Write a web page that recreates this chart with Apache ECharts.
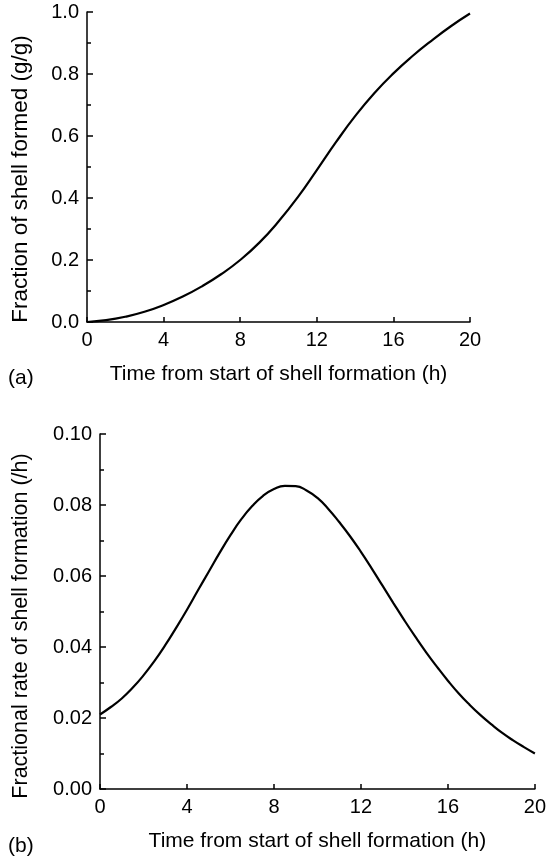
<!DOCTYPE html>
<html>
<head>
<meta charset="utf-8">
<style>
html,body{margin:0;padding:0;background:#fff;}
#c{width:549px;height:868px;}
</style>
<script src="https://cdn.jsdelivr.net/npm/echarts@6/dist/echarts.min.js"></script>
</head>
<body>
<div id="c"></div>
<script>
// ---- data ----
var timeA = [0,1,2,3,4,5,6,7,8,9,10,11,12,13,14,15,16,17,18,19,20];
var fractionFormed = [0,0.006,0.017,0.033,0.055,0.082,0.115,0.154,0.200,0.256,0.324,0.402,0.490,0.580,0.664,0.738,0.802,0.858,0.908,0.954,0.995];
var timeB = [0,0.5,1,1.5,2,2.5,3,3.5,4,4.5,5,5.5,6,6.5,7,7.5,8,8.5,9,9.5,10,10.5,11,11.5,12,12.5,13,13.5,14,14.5,15,15.5,16,16.5,17,17.5,18,18.5,19,19.5,20];
var fractionalRate = [0.0210,0.0231,0.0255,0.0285,0.0320,0.0360,0.0405,0.0454,0.0505,0.0559,0.0612,0.0665,0.0715,0.0760,0.0797,0.0826,0.0845,0.0854,0.0853,0.0841,0.0820,0.0789,0.0752,0.0712,0.0668,0.0621,0.0572,0.0523,0.0475,0.0429,0.0385,0.0344,0.0305,0.0269,0.0237,0.0208,0.0182,0.0158,0.0137,0.0118,0.0100];
var xTickLabels = ['0','4','8','12','16','20'];
var yTickLabelsA = ['0.0','0.2','0.4','0.6','0.8','1.0'];
var yTickLabelsB = ['0.00','0.02','0.04','0.06','0.08','0.10'];
var panelLabels = ['(a)','(b)'];
var xTitle = 'Time from start of shell formation (h)';
var yTitleA = 'Fraction of shell formed (g/g)';
var yTitleB = 'Fractional rate of shell formation (/h)';

var FONT = '"Liberation Sans", Arial, Helvetica, sans-serif';
var chart = echarts.init(document.getElementById('c'), null, {renderer:'canvas'});

function pairs(xs, ys){ return xs.map(function(x,i){ return [x, ys[i]]; }); }
function lookup(labels, step){ return function(v){ var i = Math.round(v/step); return labels[i] !== undefined ? labels[i] : ''; }; }

function xAxis(gi){
  return {
    type:'value', gridIndex:gi, min:0, max:20, interval:4,
    name: xTitle, nameLocation:'middle', nameGap: 42,
    nameTextStyle:{color:'#000', fontFamily:FONT, fontSize:21},
    axisLine:{lineStyle:{color:'#000', width:1.5}},
    axisTick:{inside:true, length:5, lineStyle:{color:'#000', width:1.5}},
    axisLabel:{color:'#000', fontFamily:FONT, fontSize:20, margin:8, formatter: lookup(xTickLabels,4)},
    splitLine:{show:false}
  };
}
function yAxis(gi, max, interval, labels){
  return {
    type:'value', gridIndex:gi, min:0, max:max, interval:interval,
    axisLine:{show:true, lineStyle:{color:'#000', width:1.5}},
    axisTick:{inside:true, length:6, lineStyle:{color:'#000', width:1.5}},
    minorTick:{show:true, splitNumber:2, length:4, lineStyle:{color:'#000', width:1.5}},
    axisLabel:{color:'#000', fontFamily:FONT, fontSize:20, margin:8, formatter: lookup(labels, interval)},
    splitLine:{show:false}
  };
}

var option = {
  backgroundColor:'#fff',
  animation:false,
  grid:[
    {left:87, top:12, width:383, height:310},
    {left:100, top:434, width:436, height:355}
  ],
  xAxis:[xAxis(0), xAxis(1)],
  yAxis:[
    yAxis(0, 1.0, 0.2, yTickLabelsA),
    yAxis(1, 0.10, 0.02, yTickLabelsB)
  ],
  graphic:[
    {type:'text', left:8, top:368, style:{text:panelLabels[0], fill:'#000', font:'21px '+FONT}},
    {type:'text', left:8, top:836, style:{text:panelLabels[1], fill:'#000', font:'21px '+FONT}},
    {type:'text', x:21, y:179, rotation:Math.PI/2,
     style:{text:yTitleA, fill:'#000', font:'22.5px '+FONT, textAlign:'center', textVerticalAlign:'middle'}},
    {type:'text', x:21, y:626, rotation:Math.PI/2,
     style:{text:yTitleB, fill:'#000', font:'21.5px '+FONT, textAlign:'center', textVerticalAlign:'middle'}}
  ],
  series:[
    {type:'line', xAxisIndex:0, yAxisIndex:0, data:pairs(timeA, fractionFormed), smooth:true, showSymbol:false,
     lineStyle:{color:'#000', width:2.2}},
    {type:'line', xAxisIndex:1, yAxisIndex:1, data:pairs(timeB, fractionalRate), smooth:true, showSymbol:false,
     lineStyle:{color:'#000', width:2.2}}
  ]
};
chart.setOption(option);
</script>
</body>
</html>
